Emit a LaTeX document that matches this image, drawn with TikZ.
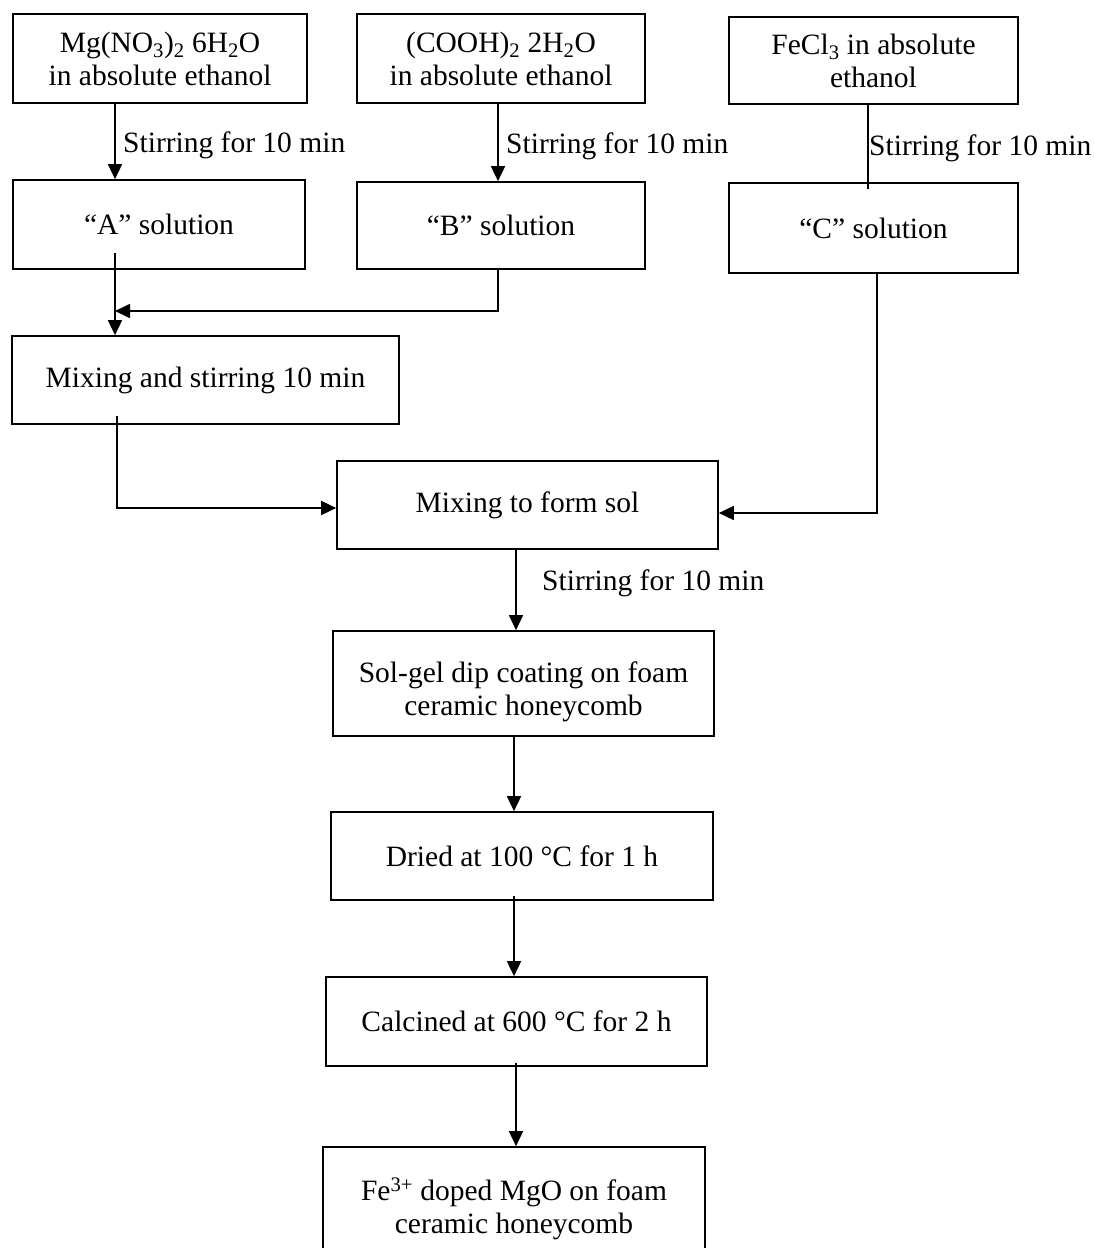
\documentclass[tikz,border=0pt]{standalone}
\usepackage{fontspec}
\setmainfont{Liberation Serif}
\usetikzlibrary{arrows.meta}
\begin{document}
\begin{tikzpicture}[x=1pt,y=-1pt,
  box/.style={draw,line width=1.7pt,align=center,inner sep=0pt,font=\fontsize{29.5}{33}\selectfont},
  lbl/.style={anchor=west,inner sep=0pt,font=\fontsize{29.5}{33}\selectfont},
  arr/.style={line width=1.7pt,-{Triangle[length=15pt,width=14pt]}},
  ln/.style={line width=1.7pt}]
\useasboundingbox (0,0) rectangle (1094,1248);
\clip (0,0) rectangle (1094,1248);
\node[box,minimum width=294pt,minimum height=89pt] (m1) at (160,58.5) {Mg(NO\textsubscript{3})\textsubscript{2} 6H\textsubscript{2}O\\in absolute ethanol};
\node[box,minimum width=288pt,minimum height=89pt] (m2) at (501,58.5) {(COOH)\textsubscript{2} 2H\textsubscript{2}O\\in absolute ethanol};
\node[box,minimum width=289pt,minimum height=87pt] (m3) at (873.5,60.5) {FeCl\textsubscript{3} in absolute\\ethanol};
\node[box,minimum width=292pt,minimum height=89pt] (a) at (159,224.5) {“A” solution};
\node[box,minimum width=288pt,minimum height=87pt] (b) at (501,225.5) {“B” solution};
\node[box,minimum width=289pt,minimum height=90pt] (c) at (873.5,228) {“C” solution};
\node[box,minimum width=387pt,minimum height=88pt] (mix1) at (205.5,380) {Mixing and stirring 10 min};
\node[box,minimum width=381pt,minimum height=88pt] (mix2) at (527.5,505) {Mixing to form sol};
\node[box,minimum width=381pt,minimum height=105pt] (sg) at (523.5,683.5) {\rule{0pt}{38pt}Sol-gel dip coating on foam\\ceramic honeycomb};
\node[box,minimum width=382pt,minimum height=88pt] (dr) at (522,856) {Dried at 100 °C for 1 h};
\node[box,minimum width=381pt,minimum height=89pt] (ca) at (516.5,1021.5) {Calcined at 600 °C for 2 h};
\node[box,minimum width=382pt,minimum height=124pt] (fin) at (514,1209) {Fe\textsuperscript{3+} doped MgO on foam\\ceramic honeycomb};

\coordinate (xa) at (115,0);
\coordinate (xb) at (498,0);
\coordinate (xc) at (868,0);
\coordinate (xc2) at (877,0);
\coordinate (xm) at (117,0);
\coordinate (xs) at (516,0);
\coordinate (xd) at (514,0);
\coordinate (yb) at (0,311);
\coordinate (ym) at (0,508);
\coordinate (yc) at (0,513);

\draw[arr] (m1.south -| xa) -- (a.north -| xa);
\node[lbl] (l1) at (123,145) {Stirring for 10 min};
\draw[arr] (m2.south -| xb) -- (b.north -| xb);
\node[lbl] (l2) at (506,146) {Stirring for 10 min};
\draw[ln] (m3.south -| xc) -- ([yshift=-7pt]c.north -| xc);
\node[lbl] (l3) at (869,148) {Stirring for 10 min};

\draw[arr] ([yshift=17pt]a.south -| xa) -- (mix1.north -| xa);
\draw[arr] (b.south -| xb) -- (yb -| xb) -- (yb -| xa);
\draw[arr] ([yshift=9pt]mix1.south -| xm) -- (ym -| xm) -- (ym -| mix2.west);
\draw[arr] (c.south -| xc2) -- (yc -| xc2) -- (yc -| mix2.east);

\draw[arr] (mix2.south -| xs) -- (sg.north -| xs);
\node[lbl] (l4) at (542,583) {Stirring for 10 min};
\draw[arr] (sg.south -| xd) -- (dr.north -| xd);
\draw[arr] ([yshift=5pt]dr.south -| xd) -- (ca.north -| xd);
\draw[arr] ([yshift=4pt]ca.south -| xs) -- (fin.north -| xs);
\end{tikzpicture}
\end{document}
